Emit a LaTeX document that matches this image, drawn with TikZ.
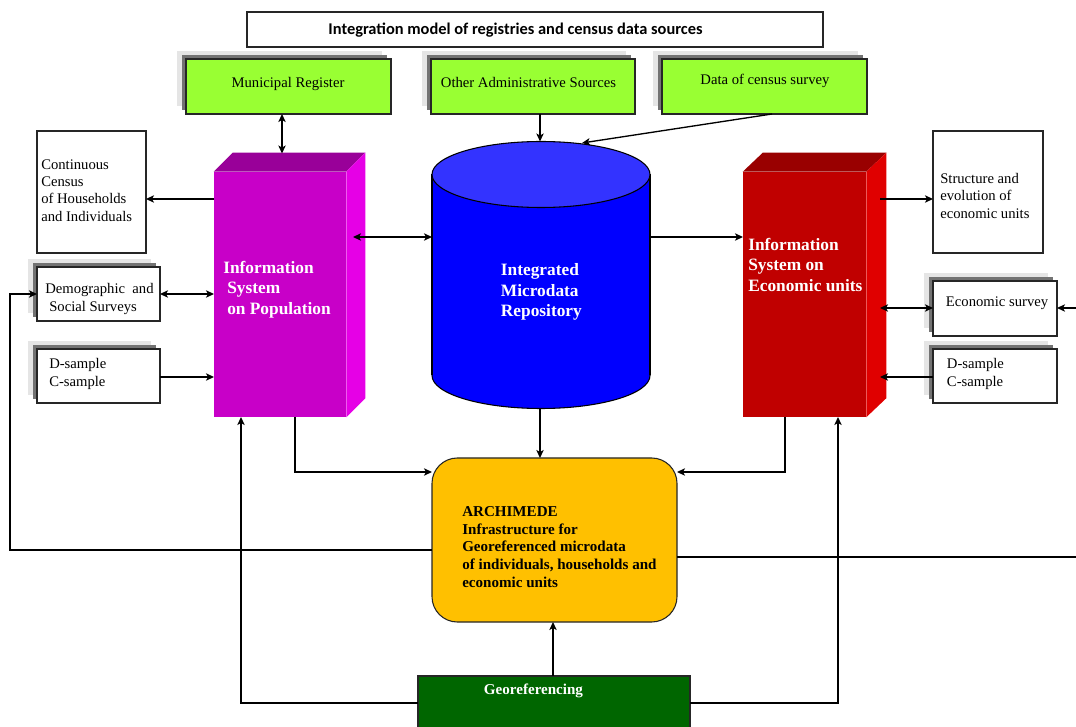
\documentclass[tikz,border=0pt]{standalone}
\usepackage{fontspec}
\setmainfont{Liberation Serif}
\newfontfamily\titlef{Carlito}
\usetikzlibrary{arrows.meta,shadows,calc}
\definecolor{lgreen}{HTML}{99FF33}
\definecolor{pfront}{HTML}{C800C8}
\definecolor{ptop}{HTML}{990099}
\definecolor{pside}{HTML}{E600E6}
\definecolor{rfront}{HTML}{C00000}
\definecolor{rtop}{HTML}{990000}
\definecolor{rside}{HTML}{E00000}
\definecolor{cylbody}{HTML}{0000FF}
\definecolor{cyltop}{HTML}{3333FF}
\definecolor{archc}{HTML}{FFC000}
\definecolor{geoc}{HTML}{006600}
\tikzset{
  px/.style 2 args={minimum width=#1*0.75pt, minimum height=#2*0.75pt},
  box/.style={draw=black!85, line width=0.8pt, inner sep=0pt, fill=white},
  shd/.style={general shadow={fill=gray!20, shadow xshift=-6.5pt, shadow yshift=6pt},
              general shadow={fill=black!55, shadow xshift=-3pt, shadow yshift=3pt}},
  txt/.style={inner sep=0pt, font=\fontsize{11}{13}\selectfont, align=left},
  wtxt/.style={inner sep=0pt, text=white, font=\bfseries\fontsize{13}{15.4}\selectfont, align=left},
  btxt/.style={inner sep=0pt, font=\bfseries\fontsize{11.3}{13.2}\selectfont, align=left},
  tip/.tip={Stealth[length=6pt,width=5.5pt,inset=1.5pt]},
  arr/.style={line width=1pt, -tip},
  darr/.style={line width=1pt, tip-tip},
  ln/.style={line width=1pt}
}
\begin{document}
\begin{tikzpicture}[x=0.75pt,y=-0.75pt]
\useasboundingbox (0,0) rectangle (1076,727);

% title
\node[box, px={576}{35}] (title) at (535,29.5) {};
\node[inner sep=0pt, font=\titlef\bfseries\fontsize{12.3}{14}\selectfont] (titletxt) at (515.5,30) {Integration model of registries and census data sources};

% green sources
\node[box, shd, fill=lgreen, px={205}{55}] (mr) at (288.5,86.5) {};
\node[txt] (mrt) at (288,84) {Municipal Register};
\node[box, shd, fill=lgreen, px={204}{55}] (oas) at (533,86.5) {};
\node[txt] (oast) at (528.5,82) {Other Administrative Sources};
\node[box, shd, fill=lgreen, px={205}{55}] (dcs) at (764.5,86.5) {};
\node[txt] (dcst) at (765,81) {Data of census survey};

% left boxes
\node[box, px={109}{122}] (cc) at (91.5,192) {};
\node[txt, anchor=west] (cct) at (41,190.5) {Continuous\\Census\\of Households\\and Individuals};
\node[box, shd, px={123}{54}] (ds) at (98.5,294) {};
\node[txt, anchor=west] (dst) at (45,299) {Demographic\ \ and\\\hspace{3pt}Social Surveys};
\node[box, shd, px={123}{54}] (dl) at (98.5,376) {};
\node[txt, anchor=west] (dlt) at (49,374) {D-sample\\C-sample};

% purple 3D box
\node[fill=pfront, px={132}{245}, inner sep=0pt] (pop) at (280,294.5) {};
\fill[ptop] (pop.north west) -- ($(pop.north west)+(19,-19)$) -- ($(pop.north east)+(19,-19)$) -- (pop.north east) -- cycle;
\fill[pside] (pop.north east) -- ($(pop.north east)+(19,-19)$) -- ($(pop.south east)+(19,-19)$) -- (pop.south east) -- cycle;
\node[wtxt, anchor=west] (popt) at (223,289.7) {Information\\\hspace{3pt}System\\\hspace{3pt}on Population};

% red 3D box
\node[fill=rfront, px={123}{245}, inner sep=0pt] (eco) at (804.5,294.5) {};
\fill[rtop] (eco.north west) -- ($(eco.north west)+(20,-19)$) -- ($(eco.north east)+(20,-19)$) -- (eco.north east) -- cycle;
\fill[rside] (eco.north east) -- ($(eco.north east)+(20,-19)$) -- ($(eco.south east)+(20,-19)$) -- (eco.south east) -- cycle;
\node[wtxt, anchor=west] (ecot) at (748,265) {Information\\System on\\Economic units};

% cylinder
\fill[cylbody] (432,174.5) rectangle (650,375.5);
\fill[cylbody] (541,375.5) ellipse[x radius=109, y radius=33];
\draw[line width=0.8pt] (432,174.5) -- (432,375.5) (650,174.5) -- (650,375.5);
\begin{scope}
  \clip (420,375.5) rectangle (660,420);
  \draw[line width=0.8pt] (541,375.5) ellipse[x radius=109, y radius=33];
\end{scope}
\filldraw[fill=cyltop, line width=0.8pt] (541,174.5) ellipse[x radius=109, y radius=33];
\node[wtxt, anchor=west] (imr) at (500.7,292) {Integrated\\Microdata\\Repository};
\coordinate (cyltopc) at (540,141.5);
\coordinate (cyltopr) at (582,143);
\coordinate (cylbot) at (540,408.5);

% right boxes
\node[box, px={110}{122}] (se) at (988,192) {};
\node[txt, anchor=west] (set) at (940,195.7) {Structure and\\evolution of\\economic units};
\node[box, shd, px={124}{55}] (es) at (995,308.5) {};
\node[txt, anchor=west] (est) at (945.7,303.3) {Economic survey};
\node[box, shd, px={124}{54}] (dr) at (995,376) {};
\node[txt, anchor=west] (drt) at (946.7,374) {D-sample\\C-sample};

% ARCHIMEDE
\node[draw=black!85, line width=0.8pt, fill=archc, rounded corners=19pt, px={245}{164}] (arch) at (554.5,540) {};
\node[btxt, anchor=west] (archt) at (462,547) {ARCHIMEDE\\Infrastructure for\\Georeferenced microdata\\of individuals, households and\\economic units};

% Georeferencing
\node[draw=black!85, line width=0.8pt, fill=geoc, px={272}{64}] (geo) at (554,708) {};
\node[inner sep=0pt, text=white, font=\bfseries\fontsize{11.3}{13}\selectfont] (geot) at (533.5,691) {Georeferencing};

% connectors
\draw[darr] (282,114) -- (282,153.5);
\draw[arr] (540,114) -- (cyltopc);
\draw[arr] (772,114) -- (cyltopr);
\draw[arr] (214,199) -- (146,199);
\draw[darr] (160,294) -- (214,294);
\draw[arr] (160,377) -- (214,377);
\draw[darr] (353,237) -- (432,237);
\draw[arr] (650,237) -- (743,237);
\draw[arr] (880,199) -- (933,199);
\draw[darr] (880,308) -- (933,308);
\draw[arr] (933,377) -- (880,377);
\draw[arr] (1076,308) -- (1057,308);
\draw[arr] (cylbot) -- (540,458);
\draw[arr] (295,417) -- (295,472) -- (432,472);
\draw[arr] (785,417) -- (785,472) -- (677,472);
\draw[arr] (432,550) -- (10,550) -- (10,294) -- (37,294);
\draw[ln] (677,557) -- (1076,557);
\draw[arr] (553,676) -- (553,622);
\draw[arr] (418,703) -- (241,703) -- (241,417);
\draw[arr] (690,703) -- (838,703) -- (838,417);
\end{tikzpicture}
\end{document}
